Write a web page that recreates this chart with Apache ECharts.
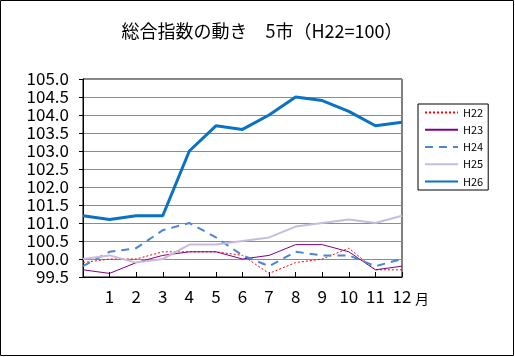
<!DOCTYPE html>
<html>
<head>
<meta charset="utf-8">
<script src="https://cdn.jsdelivr.net/npm/echarts@6/dist/echarts.min.js"></script>
<style>
html,body{margin:0;padding:0;background:#fff;}
#chart{width:515px;height:357px;}
</style>
</head>
<body>
<div id="chart"></div>
<script>
const titleText = '総合指数の動き　5市（H22=100）';
const categories = ['', '1', '2', '3', '4', '5', '6', '7', '8', '9', '10', '11', '12'];
const seriesNames = ['H22', 'H23', 'H24', 'H25', 'H26'];
const h22 = [99.9, 100.0, 100.0, 100.2, 100.2, 100.2, 100.1, 99.6, 99.9, 100.0, 100.3, 99.7, 99.7];
const h23 = [99.7, 99.6, 99.9, 100.1, 100.2, 100.2, 100.0, 100.1, 100.4, 100.4, 100.2, 99.7, 99.8];
const h24 = [99.8, 100.2, 100.3, 100.8, 101.0, 100.6, 100.1, 99.8, 100.2, 100.1, 100.1, 99.8, 100.0];
const h25 = [100.0, 100.1, 99.9, 100.0, 100.4, 100.4, 100.5, 100.6, 100.9, 101.0, 101.1, 101.0, 101.2];
const h26 = [101.2, 101.1, 101.2, 101.2, 103.0, 103.7, 103.6, 104.0, 104.5, 104.4, 104.1, 103.7, 103.8];
const yMin = 99.5, yMax = 105.0, yStep = 0.5;
const monthUnit = '月';

const FONT = '"Noto Sans CJK JP", sans-serif';
const chart = echarts.init(document.getElementById('chart'), null, {renderer: 'canvas'});

const styles = [
  {color: '#FF0000', width: 1, type: [2, 2]},
  {color: '#800080', width: 1, type: 'solid'},
  {color: '#4A86D4', width: 2, type: [8, 6]},
  {color: '#C8BCDC', width: 2, type: 'solid'},
  {color: '#0A72C4', width: 3, type: 'solid'}
];
const dataSets = [h22, h23, h24, h25, h26];

chart.setOption({
  animation: false,
  backgroundColor: '#fff',
  grid: {left: 83, top: 79, width: 319, height: 198, show: true, borderColor: '#000', borderWidth: 1, backgroundColor: 'transparent'},
  xAxis: {
    type: 'category',
    data: categories,
    boundaryGap: false,
    axisLine: {lineStyle: {color: '#000', width: 1}},
    axisTick: {inside: true, length: 5, lineStyle: {color: '#000'}},
    axisLabel: {color: '#000', fontFamily: FONT, fontSize: 17, margin: 11, interval: 0},
    splitLine: {show: false}
  },
  yAxis: {
    type: 'value',
    min: yMin, max: yMax, interval: yStep,
    axisLine: {show: true, lineStyle: {color: '#000', width: 1}},
    axisTick: {show: true, length: 4, lineStyle: {color: '#000'}},
    axisLabel: {color: '#000', fontFamily: FONT, fontSize: 17, margin: 14, formatter: v => v.toFixed(1)},
    splitLine: {show: true, lineStyle: {color: '#8c8c8c', width: 1}}
  },
  legend: {
    data: seriesNames,
    orient: 'vertical',
    left: 418, top: 104,
    itemWidth: 33, itemHeight: 14, itemGap: 6,
    padding: [3, 5, 3, 6],
    borderColor: '#000', borderWidth: 1,
    itemStyle: {opacity: 0},
    textStyle: {color: '#000', fontFamily: FONT, fontSize: 11}
  },
  graphic: [
    {type: 'rect', shape: {x: 0.5, y: 0.5, width: 513, height: 355}, style: {fill: 'none', stroke: '#000', lineWidth: 1}, silent: true},
    {type: 'text', x: 262, y: 31, style: {text: titleText, fill: '#000', font: '18px ' + FONT, textAlign: 'center', textVerticalAlign: 'middle'}},
    {type: 'text', x: 422, y: 299, style: {text: monthUnit, fill: '#000', font: '14px ' + FONT, textAlign: 'center', textVerticalAlign: 'middle'}}
  ],
  series: seriesNames.map((n, i) => ({
    name: n,
    type: 'line',
    data: dataSets[i],
    symbol: 'none',
    color: styles[i].color,
    lineStyle: {color: styles[i].color, width: styles[i].width, type: styles[i].type},
    z: 2 + i
  }))
});
</script>
</body>
</html>
